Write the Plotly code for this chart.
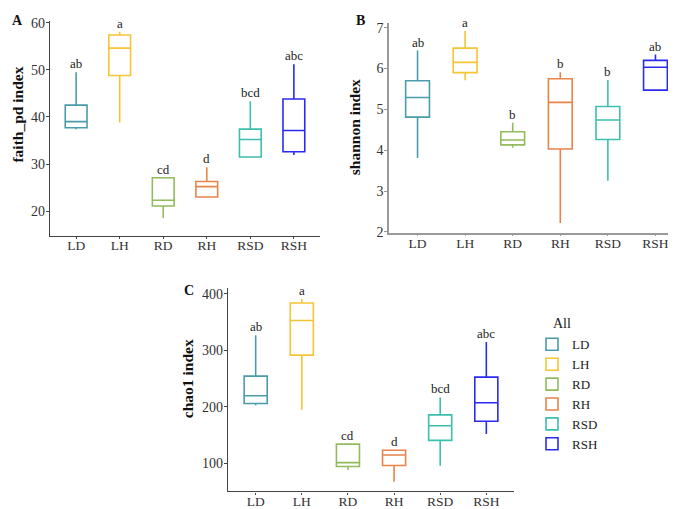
import plotly.graph_objects as go

groups = ["LD", "LH", "RD", "RH", "RSD", "RSH"]
colors = ["#4a9caa", "#f5c434", "#92bb5c", "#e8834a", "#3dbfae", "#2b2bee"]

# faith_pd index (panel A)
fp_low = [37.4, 38.8, 18.5, 23.0, 31.5, 31.9]
fp_q1 = [37.7, 48.8, 21.1, 23.0, 31.5, 32.6]
fp_med = [39.0, 54.6, 22.3, 25.2, 35.2, 37.1]
fp_q3 = [42.5, 57.4, 27.1, 26.3, 37.4, 43.8]
fp_high = [49.5, 58.1, 27.1, 29.3, 43.3, 51.2]
fp_letters = ["ab", "a", "cd", "d", "bcd", "abc"]

# shannon index (panel B)
sh_low = [3.81, 5.71, 4.06, 2.22, 3.25, 5.47]
sh_q1 = [4.81, 5.90, 4.13, 4.03, 4.26, 5.47]
sh_med = [5.29, 6.15, 4.25, 5.17, 4.74, 6.03]
sh_q3 = [5.70, 6.50, 4.45, 5.75, 5.07, 6.20]
sh_high = [6.44, 6.92, 4.67, 5.91, 5.72, 6.34]
sh_letters = ["ab", "a", "b", "b", "b", "ab"]

# chao1 index (panel C)
ch_low = [202.6, 195.0, 88.1, 67.2, 95.5, 151.9]
ch_q1 = [206.0, 291.7, 94.3, 96.0, 140.6, 174.5]
ch_med = [219.5, 353.0, 101.0, 114.6, 166.5, 207.3]
ch_q3 = [254.5, 384.0, 133.8, 123.0, 185.7, 252.7]
ch_high = [326.7, 391.0, 133.8, 123.0, 216.7, 315.0]
ch_letters = ["ab", "a", "cd", "d", "bcd", "abc"]

SERIF = "Liberation Serif, Times New Roman, serif"
fig = go.Figure()

panels = [
    ("x", "y", fp_low, fp_q1, fp_med, fp_q3, fp_high, fp_letters, False),
    ("x2", "y2", sh_low, sh_q1, sh_med, sh_q3, sh_high, sh_letters, False),
    ("x3", "y3", ch_low, ch_q1, ch_med, ch_q3, ch_high, ch_letters, True),
]

annotations = []
for xa, ya, lo, q1, med, q3, hi, letters, show in panels:
    for i, g in enumerate(groups):
        fig.add_trace(go.Box(
            x=[g], lowerfence=[lo[i]], q1=[q1[i]], median=[med[i]], q3=[q3[i]],
            upperfence=[hi[i]], name=g, legendgroup=g, showlegend=show,
            xaxis=xa, yaxis=ya, width=0.5, whiskerwidth=0,
            fillcolor="rgba(255,255,255,0)", line=dict(color=colors[i], width=1.6),
            marker=dict(color=colors[i]), boxpoints=False,
        ))
        annotations.append(dict(
            x=g, y=hi[i], xref=xa, yref=ya, text=letters[i], showarrow=False,
            yanchor="bottom", yshift=-1, font=dict(family=SERIF, size=13, color="#222"),
        ))

# panel labels, y titles and legend title
for txt, x, y in [("A", 9, 8), ("B", 352, 8), ("C", 181, 284)]:
    annotations.append(dict(text="<b>%s</b>" % txt, x=x / 676, y=1 - y / 509, xref="paper", yref="paper",
                            showarrow=False, xanchor="center", yanchor="middle",
                            font=dict(family=SERIF, size=14, color="#111")))
for txt, x, y in [("faith_pd index", 10, 104), ("shannon index", 346, 117), ("chao1 index", 179, 375)]:
    annotations.append(dict(text="<b>%s</b>" % txt, x=x / 676, y=1 - y / 509, xref="paper", yref="paper",
                            showarrow=False, xanchor="center", yanchor="middle", textangle=-90,
                            font=dict(family=SERIF, size=15.5, color="#111")))
annotations.append(dict(text="All", x=543 / 676, y=1 - 318 / 509, xref="paper", yref="paper",
                        showarrow=False, xanchor="left", yanchor="middle",
                        font=dict(family=SERIF, size=14, color="#222")))

xtickfont = dict(family=SERIF, size=13.5, color="#333")
ytickfont = dict(family=SERIF, size=14, color="#333")

def xax(domain, col="#444", w=1.2):
    return dict(domain=domain, type="category", categoryorder="array", categoryarray=groups,
                range=[-0.6, 5.6], showgrid=False, zeroline=False, showline=True,
                linecolor=col, linewidth=w, ticks="outside", ticklen=2, tickcolor=col,
                tickfont=xtickfont, fixedrange=True, ticklabelstandoff=-5)

def yax(domain, rng, dtick, anchor, col="#444", w=1.2):
    return dict(domain=domain, range=rng, dtick=dtick, showgrid=False, zeroline=False,
                showline=True, linecolor=col, linewidth=w, ticks="outside", ticklen=3,
                tickcolor=col, tickfont=ytickfont, anchor=anchor, ticklabelstandoff=-2)

fig.update_layout(
    width=676, height=509, margin=dict(l=0, r=0, t=0, b=0),
    paper_bgcolor="white", plot_bgcolor="white", boxmode="overlay",
    xaxis=dict(xax([42 / 676, 312 / 676]), anchor="y"),
    yaxis=yax([1 - 228 / 509, 1 - 8 / 509], [14.8, 60.4], 10, "x"),
    xaxis2=dict(xax([381 / 676, 1.0], "#999", 1.6), anchor="y2"),
    yaxis2=yax([1 - 225 / 509, 1 - 10 / 509], [1.98, 7.12], 1, "x2", "#999", 1.6),
    xaxis3=dict(xax([220 / 676, 506 / 676]), anchor="y3"),
    yaxis3=yax([1 - 490 / 509, 1 - 282 / 509], [50, 410], 100, "x3"),
    annotations=annotations,
    legend=dict(x=524 / 676, y=1 - 324 / 509, xanchor="left", yanchor="top",
                font=dict(family=SERIF, size=13, color="#222"), tracegroupgap=0,
                itemwidth=30, bgcolor="rgba(0,0,0,0)"),
    showlegend=True,
)

fig.write_html("out.html")
